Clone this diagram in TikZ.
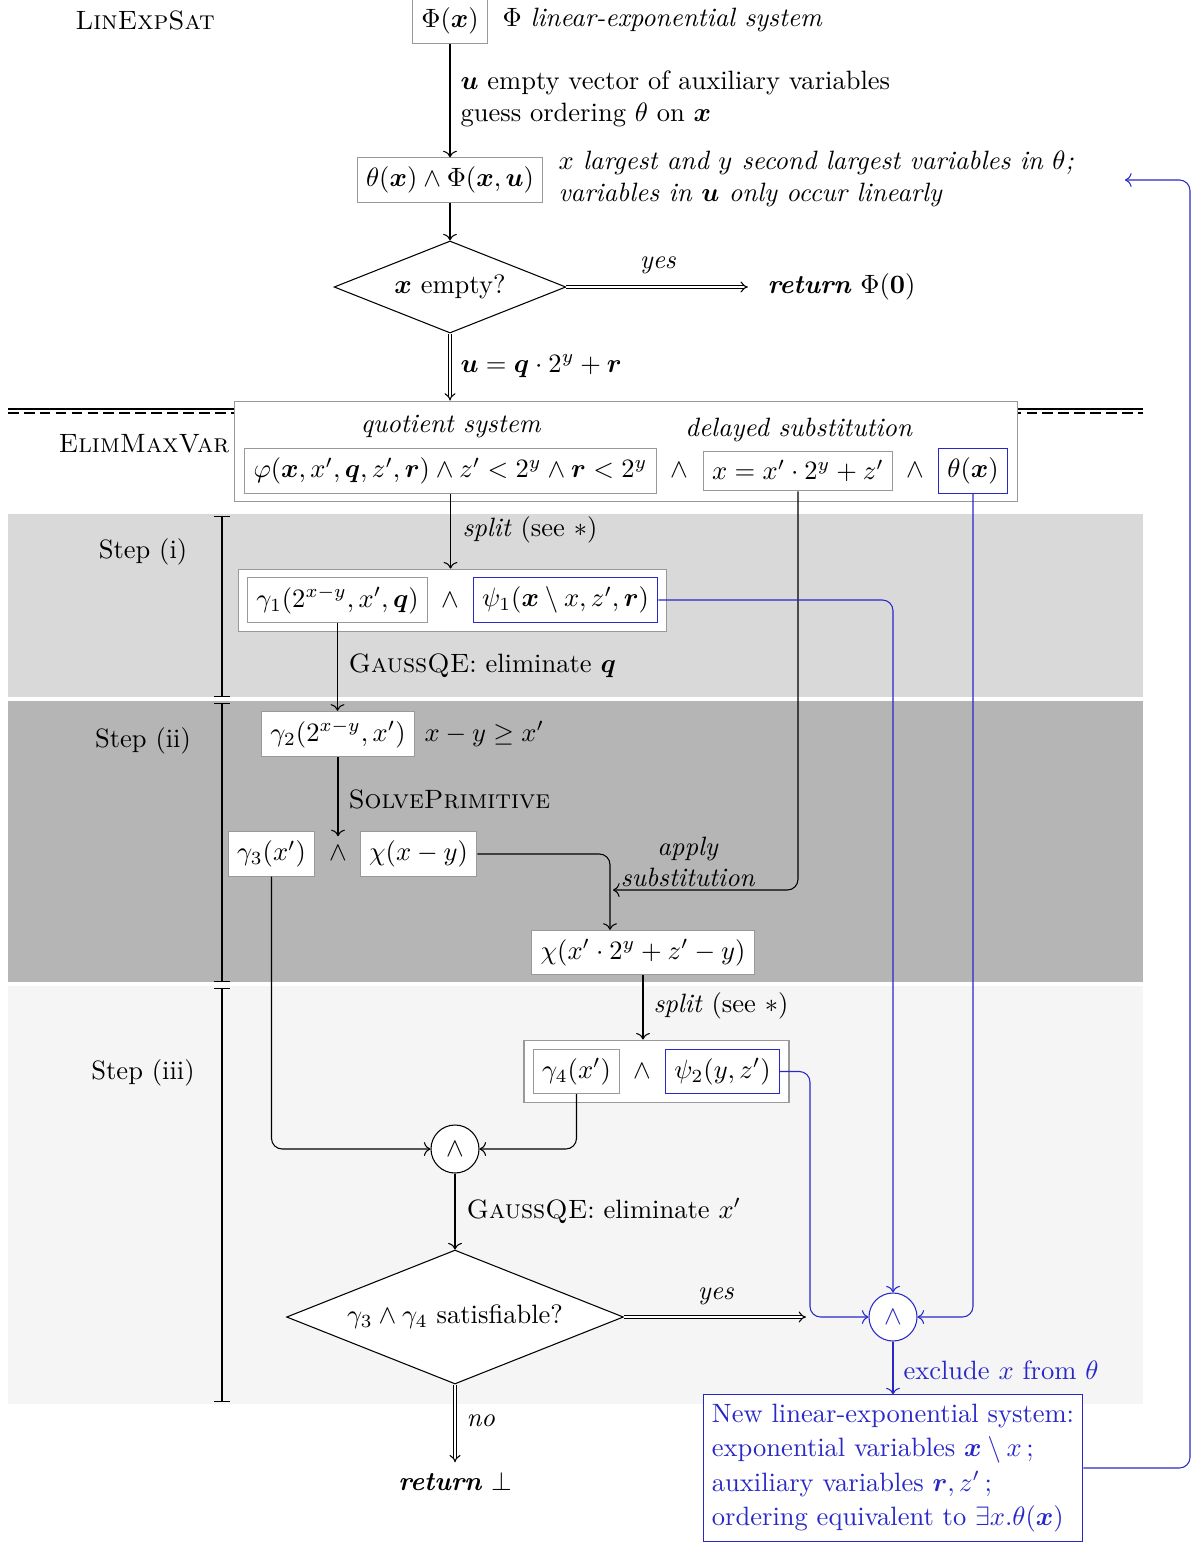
\documentclass[tikz,border=0pt]{standalone}
\usepackage{amsmath,amssymb,bm}
\usetikzlibrary{arrows.meta,shapes.geometric,calc}
\definecolor{blu}{RGB}{40,40,200}
\newcommand\bmx{\bm{x}}
\newcommand\bmu{\bm{u}}
\newcommand\bmq{\bm{q}}
\newcommand\bmr{\bm{r}}
\begin{document}
\begin{tikzpicture}[x=0.377pt,y=-0.377pt,
  box/.style={draw=gray!80, fill=white},
  bbox/.style={draw=blu, fill=white},
  lab/.style={anchor=west, inner sep=0pt, align=left},
  dbl/.style={double, double distance=1pt, -Implies},
  con/.style={->, rounded corners=4pt},
  dia/.style={diamond, draw, fill=white, aspect=2.5, inner sep=0pt},
  bracket/.style={{Bar[width=5.9pt]}-{Bar[width=5.9pt]}}
]
\useasboundingbox (0,0) rectangle (1198,1542);

% bands
\fill[gray!30] (8,514) rectangle (1143,697);
\fill[gray!58] (8,701) rectangle (1143,982);
\fill[gray!8] (8,986) rectangle (1143,1404);

% separator
\draw (8,409) -- (1143,409);
\draw[dash pattern=on 4pt off 2pt] (8,413) -- (1143,413);

% brackets
\draw[bracket] (222,516) -- (222,697);
\draw[bracket] (222,703) -- (222,982);
\draw[bracket] (222,988) -- (222,1402);
\node (s1) at (143,552) {Step (i)};
\node (s2) at (143,741) {Step (ii)};
\node (s3) at (143,1073) {Step (iii)};

% top
\node (lin) at (145,20) {\textsc{LinExpSat}};
\node[box] (phi) at (450,21) {$\Phi(\bmx)$};
\node[lab] (phil) at (502,20) {$\Phi$ \textit{linear-exponential system}};
\node[lab] (l1) at (460,99) {$\bmu$ empty vector of auxiliary variables\\guess ordering $\theta$ on $\bmx$};
\node[box] (th) at (450,180) {$\theta(\bmx)\wedge\Phi(\bmx,\bmu)$};
\node[lab] (l2) at (558,179) {\textit{$x$ largest and $y$ second largest variables in $\theta$;}\\\textit{variables in $\bmu$ only occur linearly}};
\node[dia, minimum width=87.4pt, minimum height=34.7pt] (d1) at (450,287) {$\bmx$ empty?};
\node (yes1) at (658,265) {\textit{yes}};
\node[lab] (ret1) at (767,287) {\textbf{\textit{return}} $\Phi(\mathbf{0})$};
\node[lab] (l3) at (460,366) {$\bmu=\bmq\cdot 2^y+\bmr$};

% ElimMaxVar box
\node[box, minimum width=295.5pt, minimum height=38pt] (big) at (626,451.5) {};
\node (emv) at (144,444) {\textsc{ElimMaxVar}};
\node (qsl) at (451,427) {\textit{quotient system}};
\node (dsl) at (799,430) {\textit{delayed substitution}};
\node[box] (qs) at (450.5,471) {$\varphi(\bmx,x',\bmq,z',\bmr)\wedge z'<2^y\wedge \bmr<2^y$};
\node (w1) at (679,470) {$\wedge$};
\node[box] (ds) at (798,471) {$x=x'\cdot 2^y+z'$};
\node (w2) at (915,470) {$\wedge$};
\node[bbox] (thb) at (973,471) {$\theta(\bmx)$};

% step (i)
\node[box, minimum width=161.7pt, minimum height=23.7pt] (o1) at (452.5,600.5) {};
\node[lab] (sp1) at (462,530) {\textit{split} (see $\ast$)};
\node[box] (g1) at (337.5,600) {$\gamma_1(2^{x-y},x',\bmq)$};
\node (w3) at (450,600) {$\wedge$};
\node[bbox] (p1) at (565.5,600) {$\psi_1(\bmx\setminus x,z',\bmr)$};
\node[lab] (gq1) at (348,666) {\textsc{GaussQE}: eliminate $\bmq$};

% step (ii)
\node[box] (g2) at (338,734) {$\gamma_2(2^{x-y},x')$};
\node[lab] (ineq) at (424,734) {$x-y\geq x'$};
\node[lab] (solv) at (348,799) {\textsc{SolvePrimitive}};
\node[box] (g3) at (271.5,854) {$\gamma_3(x')$};
\node (a2) at (338,853) {$\wedge$};
\node[box] (chi) at (418.5,854) {$\chi(x-y)$};
\node[box] (chi2) at (643,952.5) {$\chi(x'\cdot 2^y+z'-y)$};
\node[align=center] (appl) at (688,862) {\textit{apply}\\\textit{substitution}};

% step (iii)
\node[box, minimum width=99.9pt, minimum height=23.7pt] (o3) at (656.5,1071.5) {};
\node[lab] (sp2) at (653,1006) {\textit{split} (see $\ast$)};
\node[box] (g4) at (576.5,1071.5) {$\gamma_4(x')$};
\node (w4) at (642,1071) {$\wedge$};
\node[bbox] (p2) at (722.5,1071.5) {$\psi_2(y,z')$};
\node[circle, draw, fill=white, minimum size=18.1pt, inner sep=0pt] (c1) at (455,1149) {$\wedge$};
\node[lab] (gq2) at (466,1211) {\textsc{GaussQE}: eliminate $x'$};
\node[dia, minimum width=127pt, minimum height=50.5pt] (d2) at (455,1317) {$\gamma_3\wedge\gamma_4$ satisfiable?};
\node (yes2) at (716,1296) {\textit{yes}};
\node[circle, draw=blu, fill=white, text=blu, minimum size=18.1pt, inner sep=0pt] (c2) at (893,1317) {$\wedge$};
\node[lab, text=blu] (excl) at (903,1370) {exclude $x$ from $\theta$};
\node[draw=blu, fill=white, text=blu, align=left] (nb) at (893,1468) {New linear-exponential system:\\[1pt]exponential variables $\bmx\setminus x\,$;\\[1pt]auxiliary variables $\bmr, z'\,$;\\[1pt]ordering equivalent to $\exists x.\theta(\bmx)$};
\node[lab] (no) at (466,1421) {\textit{no}};
\node (rb) at (455,1481) {\textbf{\textit{return}} $\bot$};

\coordinate (y2) at (806,1317);
\coordinate (as) at (613,890);
\coordinate (k2) at (810,1317);
\coordinate (lp) at (1190,180);
\coordinate (le) at (1125,180);

% connectors
\draw[->] (phi) -- (th);
\draw[->] (th) -- (d1);
\draw[dbl, shorten >=7.2pt] (d1.east) -- (ret1.west);
\draw[dbl] (d1.south) -- (d1.south |- big.north);
\draw[->] (qs.south) -- (qs.south |- o1.north);
\draw[->] (g1.south) -- (g1.south |- g2.north);
\draw[->] (g2) -- (a2);
\draw[con] (chi.east) -| ($(chi2.north)+(-33,0)$);
\draw[con] (ds.south) |- (as);
\draw[->] (chi2.south) -- (chi2.south |- o3.north);
\draw[con] (g3.south) |- (c1.west);
\draw[con] (g4.south) |- (c1.east);
\draw[->] (c1) -- (d2);
\draw[dbl] (d2.east) -- (y2);
\draw[dbl] (d2.south) -- (rb);
\draw[con, blu] (p1.east) -| (c2.north);
\draw[con, blu] (p2.east) -| (k2) -- (c2.west);
\draw[con, blu] (thb.south) |- (c2.east);
\draw[->, blu] (c2) -- (nb);
\draw[con, blu] (nb.east) -| (lp) -- (le);
\end{tikzpicture}
\end{document}
